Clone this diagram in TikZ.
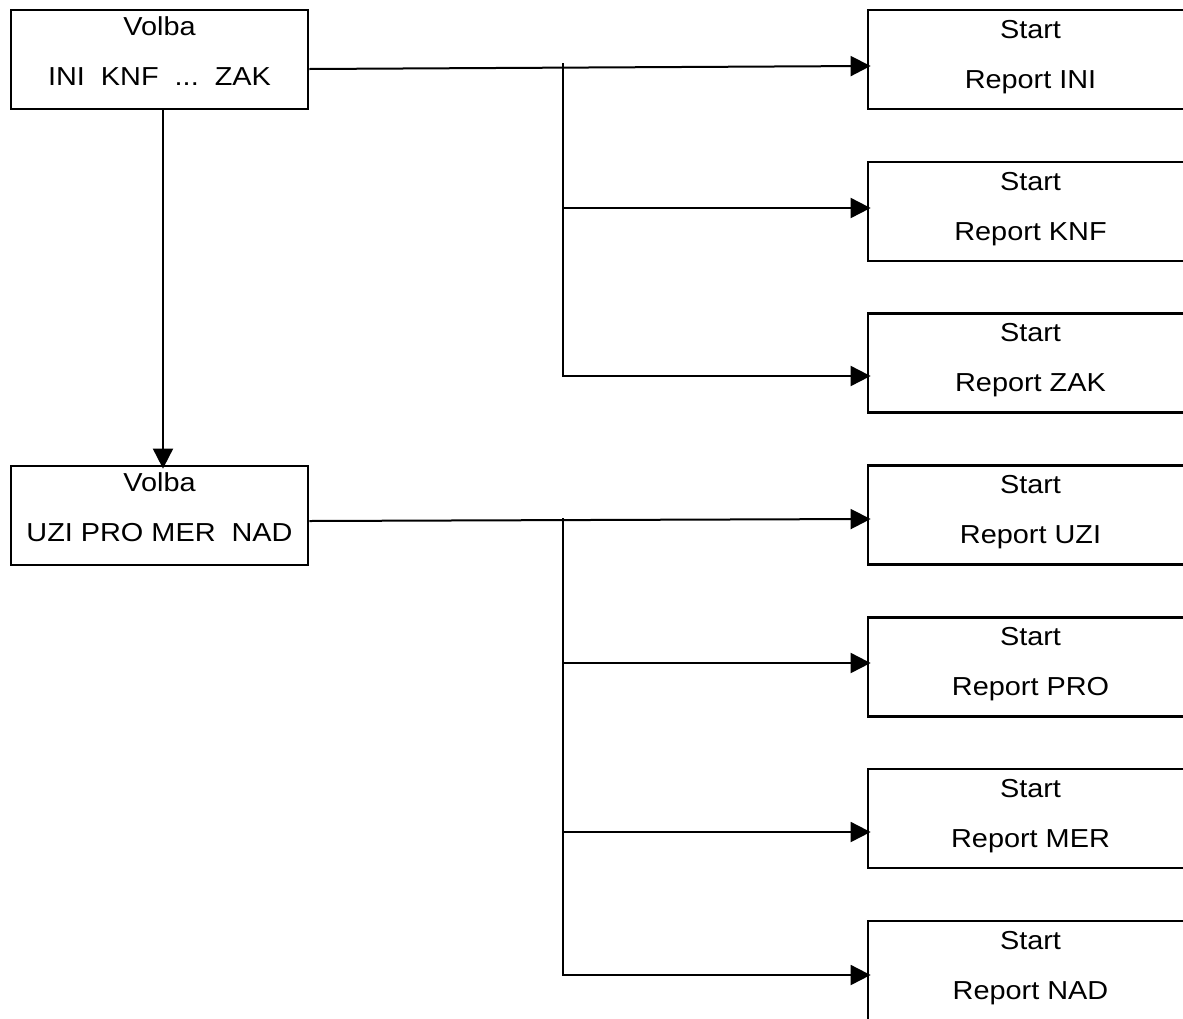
\documentclass[tikz,border=0pt]{standalone}
\usepackage{fontspec}
\setmainfont[FakeStretch=1.11]{Liberation Sans}
\usetikzlibrary{positioning}
\usetikzlibrary{arrows.meta}

\begin{document}
\begin{tikzpicture}[x=1pt, y=-1pt,
		box/.style={draw, rectangle, line width=2.8pt, align=center, inner sep=0pt, font=\fontsize{26}{50}\selectfont},
		volba/.style={box, minimum width=297pt, minimum height=99pt, text height=69pt, text depth=18pt},
		report/.style={box, minimum width=325pt, minimum height=99pt, text height=69pt, text depth=12pt},
		arrow/.style={-{Triangle[length=20pt, width=20pt]}, line width=2pt, shorten >=-4pt},
		link/.style={line width=2pt}
		]
		
		\useasboundingbox (0,0) rectangle (1183,1018);
		\clip (0,0) rectangle (1183,1018);
		
		% Volby vlevo
		\node[volba] (volA) at (159.5,59.5) {Volba\\INI\ \ KNF\ \ ...\ \ ZAK};
		\node[volba] (volB) at (159.5,515.5) {Volba\\UZI PRO MER\ \ NAD};
		
		% Reporty vpravo
		\node[report] (ini) at (1030.5,59.5) {Start\\Report INI};
		\node[report] (knf) at (1030.5,211.5) {Start\\Report KNF};
		\node[report] (zak) at (1030.5,363) {Start\\Report ZAK};
		\node[report] (uzi) at (1030.5,515) {Start\\Report UZI};
		\node[report] (pro) at (1030.5,667) {Start\\Report PRO};
		\node[report] (mer) at (1030.5,818.5) {Start\\Report MER};
		\node[report] (nad) at (1030.5,970.5) {Start\\Report NAD};
		
		% Prechod mezi volbami
		\draw[arrow] ([xshift=3.5pt]volA.south) -- ([xshift=3.5pt]volB.north);
		
		% Horni skupina
		\coordinate (forkA) at (563,63);
		\coordinate (knfIn) at ([yshift=3.5pt]knf.west);
		\draw[arrow] ([yshift=-9.5pt]volA.east) -- ([yshift=-6.5pt]ini.west);
		\draw[arrow] (forkA) |- ([yshift=-13pt]zak.west);
		\draw[arrow] (forkA |- knfIn) -- (knfIn);
		
		% Dolni skupina
		\coordinate (forkB) at (563,518);
		\coordinate (proIn) at ([yshift=4pt]pro.west);
		\coordinate (merIn) at ([yshift=-13.5pt]mer.west);
		\draw[arrow] ([yshift=-5.5pt]volB.east) -- ([yshift=-4pt]uzi.west);
		\draw[arrow] (forkB) |- ([yshift=-4.5pt]nad.west);
		\draw[arrow] (forkB |- proIn) -- (proIn);
		\draw[arrow] (forkB |- merIn) -- (merIn);
		
	\end{tikzpicture}
\end{document}
